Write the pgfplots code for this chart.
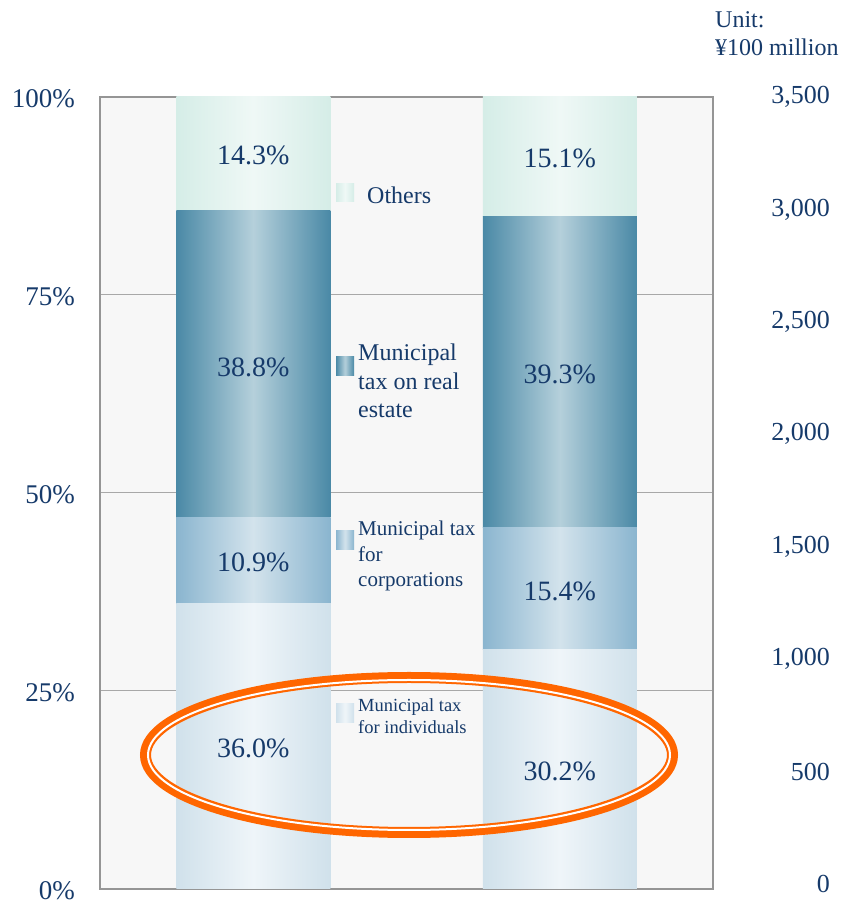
\documentclass[border=0pt]{standalone}
\usepackage{pgfplots}
\pgfplotsset{compat=1.18}
\usepackage{fontspec}
\setmainfont{Liberation Serif}
\definecolor{txt}{HTML}{163A6A}
\definecolor{bg}{HTML}{F7F7F7}
\definecolor{frame}{HTML}{959595}
\definecolor{gridc}{HTML}{A8A8A8}
\definecolor{othE}{HTML}{D5EDE7}
\definecolor{othC}{HTML}{EFF8F6}
\definecolor{reE}{HTML}{4A89A6}
\definecolor{reC}{HTML}{B5D0DB}
\definecolor{coE}{HTML}{8AB5CF}
\definecolor{coC}{HTML}{D3E3EC}
\definecolor{inE}{HTML}{D0E1EB}
\definecolor{inC}{HTML}{EFF5F9}
\definecolor{org}{HTML}{FF6600}
\pgfplotsset{
  base/.style={scale only axis, width=613pt, height=792pt, xmin=0, xmax=4, ymin=0, ymax=100},
  baronly/.style={base, hide axis, ybar stacked, bar width=154pt},
  inS/.style={draw=none, left color=inE, right color=inE, middle color=inC},
  coS/.style={draw=none, left color=coE, right color=coE, middle color=coC},
  reS/.style={draw=none, left color=reE, right color=reE, middle color=reC},
  otS/.style={draw=none, left color=othE, right color=othE, middle color=othC},
}
\begin{document}
\begin{tikzpicture}
\path[use as bounding box] (-100pt,-15pt) rectangle (743pt,889pt);
% frame, background, grid, left ticks
\begin{axis}[
  base,
  axis background/.style={fill=bg},
  axis line style={draw=frame, line width=1.2pt},
  xtick=\empty,
  ytick={0,25,50,75,100},
  yticklabels={0\%,25\%,50\%,75\%,100\%},
  yticklabel style={anchor=east, inner sep=0pt, xshift=-25pt, yshift=-2pt, font=\fontsize{27}{30}\selectfont, text=txt},
  major tick length=0pt,
  ymajorgrids, grid style={gridc, line width=1pt},
]
\addplot[draw=none, mark=none] coordinates {(0,0) (4,100)};
\end{axis}
% FY bar 1
\begin{axis}[baronly]
\addplot[inS] coordinates {(1,36.0)};
\addplot[coS] coordinates {(1,10.9)};
\addplot[reS] coordinates {(1,38.8)};
\addplot[otS] coordinates {(1,14.3)};
\end{axis}
% FY bar 2
\begin{axis}[baronly]
\addplot[inS] coordinates {(3,30.2)};
\addplot[coS] coordinates {(3,15.4)};
\addplot[reS] coordinates {(3,39.3)};
\addplot[otS] coordinates {(3,15.1)};
\end{axis}
% right axis
\begin{axis}[
  base, ymin=-22, ymax=3500,
  axis y line*=right, axis x line=none,
  axis line style={draw=none},
  ytick={0,500,1000,1500,2000,2500,3000,3500},
  yticklabels={0,500,{1,000},{1,500},{2,000},{2,500},{3,000},{3,500}},
  yticklabel style={anchor=east, inner sep=0pt, xshift=117pt, font=\fontsize{26}{30}\selectfont, text=txt},
  major tick length=0pt,
]
\addplot[draw=none, mark=none] coordinates {(0,0) (4,3500)};
\end{axis}
% segment labels (bar centres at 153.25pt and 459.75pt; 1% = 7.92pt)
\tikzset{lbl/.style={text=txt, font=\fontsize{28}{32}\selectfont, inner sep=0pt}}
\node[lbl] at (153.25pt,140.6pt) {36.0\%};
\node[lbl] at (153.25pt,326.3pt) {10.9\%};
\node[lbl] at (153.25pt,522.1pt) {38.8\%};
\node[lbl] at (153.25pt,733.5pt) {14.3\%};
\node[lbl] at (459.75pt,117.6pt) {30.2\%};
\node[lbl] at (459.75pt,297.2pt) {15.4\%};
\node[lbl] at (459.75pt,514.8pt) {39.3\%};
\node[lbl] at (459.75pt,730.2pt) {15.1\%};
% legend
\path[left color=othE, right color=othE, middle color=othC] (236pt,687pt) rectangle (254pt,705pt);
\path[left color=reE, right color=reE, middle color=reC] (236pt,513pt) rectangle (254pt,532pt);
\path[left color=coE, right color=coE, middle color=coC] (236pt,339pt) rectangle (254pt,358pt);
\path[left color=inE, right color=inE, middle color=inC] (236pt,166pt) rectangle (254pt,185pt);
\node[anchor=west, inner sep=0pt, text=txt, font=\fontsize{24}{28}\selectfont] at (267pt,694pt) {Others};
\node[anchor=west, inner sep=0pt, text=txt, align=left, font=\fontsize{24}{28.5}\selectfont] at (258pt,508pt) {Municipal\\tax on real\\estate};
\node[anchor=west, inner sep=0pt, text=txt, align=left, font=\fontsize{21}{25.5}\selectfont] at (258pt,333pt) {Municipal tax\\for\\corporations};
\node[anchor=west, inner sep=0pt, text=txt, align=left, font=\fontsize{18.5}{22}\selectfont] at (258pt,173pt) {Municipal tax\\for individuals};
\node[anchor=west, inner sep=0pt, text=txt, align=left, font=\fontsize{24}{28}\selectfont] at (615pt,855pt) {Unit:\\¥100 million};
% highlight ellipse
\draw[org, line width=11pt] (309pt,134pt) ellipse [x radius=263.5pt, y radius=77.5pt];
\draw[white, line width=2pt] (309pt,134pt) ellipse [x radius=261pt, y radius=75pt];
\end{tikzpicture}
\end{document}
